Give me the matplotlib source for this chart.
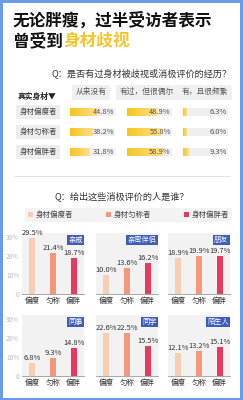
import numpy as np
import matplotlib
matplotlib.use("Agg")
import matplotlib.pyplot as plt
from matplotlib.patches import Rectangle
from matplotlib.lines import Line2D
from matplotlib.colors import LinearSegmentedColormap

plt.rcParams['font.family'] = ['Noto Sans CJK SC', 'DejaVu Sans']

# --- data ---
answers = ['从来没有', '有过，但很偶尔', '有，且很频繁']
groups = ['身材偏瘦者', '身材匀称者', '身材偏胖者']
exp_never = [44.8, 38.2, 31.8]
exp_rare = [48.9, 55.8, 58.9]
exp_often = [6.3, 6.0, 9.3]

sources = ['亲戚', '亲密伴侣', '朋友', '同事', '同学', '陌生人']
thin = [29.5, 10.0, 18.9, 6.8, 22.6, 12.1]
even = [21.4, 13.6, 19.9, 9.3, 22.5, 13.2]
heavy = [18.7, 16.2, 19.7, 14.8, 15.5, 15.1]
short_labels = ['偏瘦', '匀称', '偏胖']
y_ticks = [0, 10, 20, 30]
y_tick_labels = ['0', '10%', '20%', '30%']

W, H = 243, 400
group_colors = ['#f9cdb2', '#f4977b', '#e83a5f']
blue = '#3e5cb8'


def fx(x):
    return x / W


def fy(y):
    return 1 - y / H


def px_axes(fig, x0, y0, x1, y1):
    return fig.add_axes([x0 / W, 1 - y1 / H, (x1 - x0) / W, (y1 - y0) / H])


fig = plt.figure(figsize=(W / 100, H / 100), dpi=100)
fig.patch.set_facecolor('#6b9be8')
fig.add_artist(Rectangle((fx(3), fy(398)), 237 / W, 395 / H, transform=fig.transFigure,
                         fc='white', ec='none', zorder=0))

# title
fig.text(fx(13), fy(21), '无论胖瘦，过半受访者表示', fontsize=12, weight='heavy',
         color='#111', va='center', ha='left')
fig.text(fx(13), fy(41), '曾受到', fontsize=12, weight='heavy', color='#111',
         va='center', ha='left')
fig.text(fx(63), fy(41), '身材歧视', fontsize=12, weight='heavy', color='#f6c42a',
         va='center', ha='left')

# question 1
fig.text(fx(232), fy(73), 'Q：是否有过身材被歧视或消极评价的经历？', fontsize=6.6,
         color='#333', ha='right', va='center')

header_x = [91, 147, 205]
for hx, a in zip(header_x, answers):
    fig.text(fx(hx), fy(92), a, fontsize=5.6, color='#555', ha='center', va='center',
             bbox=dict(boxstyle='square,pad=0.45', fc='#f0f0f0', ec='none'))

fig.text(fx(37), fy(96), '真实身材▼', fontsize=5.6, weight='bold', color='#222',
         ha='center', va='center')

row_y = [112, 132, 152]
for ry, g in zip(row_y, groups):
    fig.text(fx(38), fy(ry), g, fontsize=5.4, color='#444', ha='center', va='center',
             bbox=dict(boxstyle='square,pad=0.4', fc='#eeeeee', ec='none'))

grad_cmap = LinearSegmentedColormap.from_list('gold', ['#f7c51e', '#fbe08c'])
grad = np.linspace(0, 1, 64).reshape(1, -1)
col_x = [70, 127, 183]
rows = np.arange(3)
bh = 0.42
for cx, vals in zip(col_x, [exp_never, exp_rare, exp_often]):
    ax = px_axes(fig, cx, 102, cx + 45, 162)
    ax.barh(rows, [75] * 3, height=bh, color='#efefef')
    bars = ax.barh(rows, vals, height=bh, color='#f7c948')
    for b, r, v in zip(bars, rows, vals):
        im = ax.imshow(grad, extent=[0, v, r - bh / 2, r + bh / 2], cmap=grad_cmap,
                       aspect='auto', zorder=3)
        im.set_clip_path(b)
        ax.text(73, r, f'{v:.1f}%', ha='right', va='center', fontsize=5.4,
                color='#555', zorder=4)
    ax.set_xlim(0, 75)
    ax.set_ylim(2.5, -0.5)
    ax.axis('off')

fig.add_artist(Line2D([fx(14), fx(230)], [fy(176), fy(176)], color='#dddddd', lw=0.6))

# question 2
fig.text(fx(122), fy(196), 'Q：给出这些消极评价的人是谁？', fontsize=6.6, color='#333',
         ha='center', va='center')

handles = [Rectangle((0, 0), 1, 1, fc=c, ec='none') for c in group_colors]
fig.legend(handles, groups, loc='center', bbox_to_anchor=(fx(25), fy(222), 207 / W, 14 / H),
           mode='expand', ncol=3, frameon=True, facecolor='#f0f0f0', edgecolor='none',
           fancybox=False, fontsize=5.4, labelcolor='#444', handlelength=0.7,
           handleheight=0.7, handletextpad=0.4, borderpad=0.35, borderaxespad=0)

# small multiples
panel_x = [(22, 84), (96, 158), (168, 230)]
panel_y = [(233, 294), (315, 376)]
for k, name in enumerate(sources):
    r, c = divmod(k, 3)
    x0, x1 = panel_x[c]
    y0, y1 = panel_y[r]
    ax = px_axes(fig, x0, y0, x1, y1)
    ax.set_facecolor('#f2f2f2')
    vals = [thin[k], even[k], heavy[k]]
    ax.bar(range(3), vals, width=0.3, color=group_colors, zorder=2)
    for i, v in enumerate(vals):
        ax.text(i, v + 0.6, f'{v:.1f}%', ha='center', va='bottom', fontsize=5.4,
                color='#333', zorder=3)
    ax.set_xlim(-0.5, 2.5)
    ax.set_ylim(0, 32)
    for s in ['top', 'right', 'left']:
        ax.spines[s].set_visible(False)
    ax.spines['bottom'].set_color('#999999')
    ax.spines['bottom'].set_linewidth(0.6)
    ax.set_xticks(range(3))
    ax.set_xticklabels(short_labels, fontsize=5.4, color='#333')
    ax.tick_params(axis='x', length=0, pad=2)
    if c == 0:
        ax.set_yticks(y_ticks)
        ax.set_yticklabels(y_tick_labels, fontsize=4.6, color='#bbbbbb')
        ax.tick_params(axis='y', length=0, pad=2)
    else:
        ax.set_yticks([])
    ax.text(0.98, 0.885, name, transform=ax.transAxes, ha='right', va='center',
            color='white', fontsize=5.2, zorder=4,
            bbox=dict(boxstyle='square,pad=0.2', fc=blue, ec='none'))

fig.savefig('out.png', dpi=100)
